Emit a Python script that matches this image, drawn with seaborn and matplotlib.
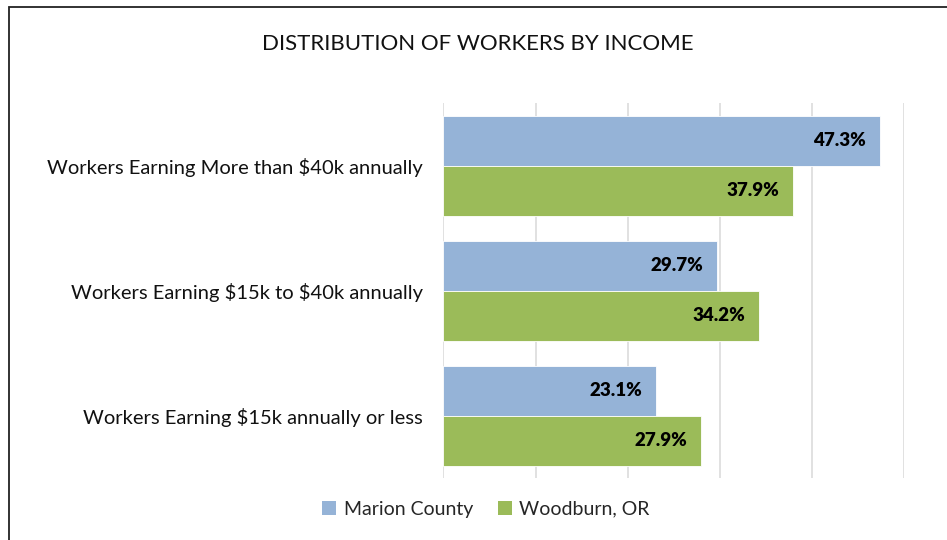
import matplotlib

matplotlib.use("Agg")

import matplotlib.pyplot as plt
import pandas as pd
import seaborn as sns
from matplotlib.patches import Patch, Rectangle

categories = [
    "Workers Earning More than $40k annually",
    "Workers Earning $15k to $40k annually",
    "Workers Earning $15k annually or less",
]
series_names = ["Marion County", "Woodburn, OR"]
marion_county = [47.3, 29.7, 23.1]
woodburn = [37.9, 34.2, 27.9]
colors = ["#95B3D7", "#9BBB59"]

sns.set_theme(style="white")
plt.rcParams["font.family"] = ["Lato", "DejaVu Sans"]
plt.rcParams["text.parse_math"] = False

df = pd.DataFrame(
    {
        "category": categories * 2,
        "series": [series_names[0]] * 3 + [series_names[1]] * 3,
        "value": marion_county + woodburn,
    }
)

fig = plt.figure(figsize=(9.47, 5.4), dpi=100)
ax = fig.add_axes([0.4683, 0.1148, 0.4868, 0.6944])

sns.barplot(
    data=df,
    x="value",
    y="category",
    hue="series",
    order=categories,
    hue_order=series_names,
    palette=colors,
    orient="h",
    width=0.8,
    saturation=1,
    edgecolor="white",
    linewidth=0.6,
    legend=False,
    ax=ax,
)

ax.set_xlim(0, 50)
ax.set_xticks(range(0, 51, 10))
ax.set_xticklabels([])
ax.tick_params(axis="x", length=0)
ax.tick_params(axis="y", length=0, labelsize=14.5, pad=15, colors="#111111")
ax.grid(axis="x", color="#D9D9D9", linewidth=1.1)
ax.set_axisbelow(True)
for side in ["top", "right", "bottom", "left"]:
    ax.spines[side].set_visible(False)
ax.set_xlabel("")
ax.set_ylabel("")

for patch in ax.patches:
    w = patch.get_width()
    if w <= 0:
        continue
    ax.annotate(
        f"{w:.1f}%",
        (w, patch.get_y() + patch.get_height() / 2),
        xytext=(-10, 0),
        textcoords="offset points",
        ha="right",
        va="center",
        fontsize=13.5,
        fontweight="heavy",
        color="#000000",
    )

fig.text(0.505, 0.918, "DISTRIBUTION OF WORKERS BY INCOME", ha="center", va="center",
         fontsize=16, color="#111111")

handles = [Patch(facecolor=c, edgecolor="none") for c in colors]
fig.legend(handles, series_names, loc="center", bbox_to_anchor=(486 / 947, 1 - 509 / 540),
           ncol=2, frameon=False, fontsize=14, handlelength=0.7, handleheight=0.7,
           handletextpad=0.4, columnspacing=1.3)

fig.patches.append(Rectangle((9 / 947, -0.1), 1.2, 1 - 7 / 540 + 0.1, transform=fig.transFigure,
                             fill=False, edgecolor="#222222", linewidth=1.3))

fig.savefig("out.png", dpi=100)
